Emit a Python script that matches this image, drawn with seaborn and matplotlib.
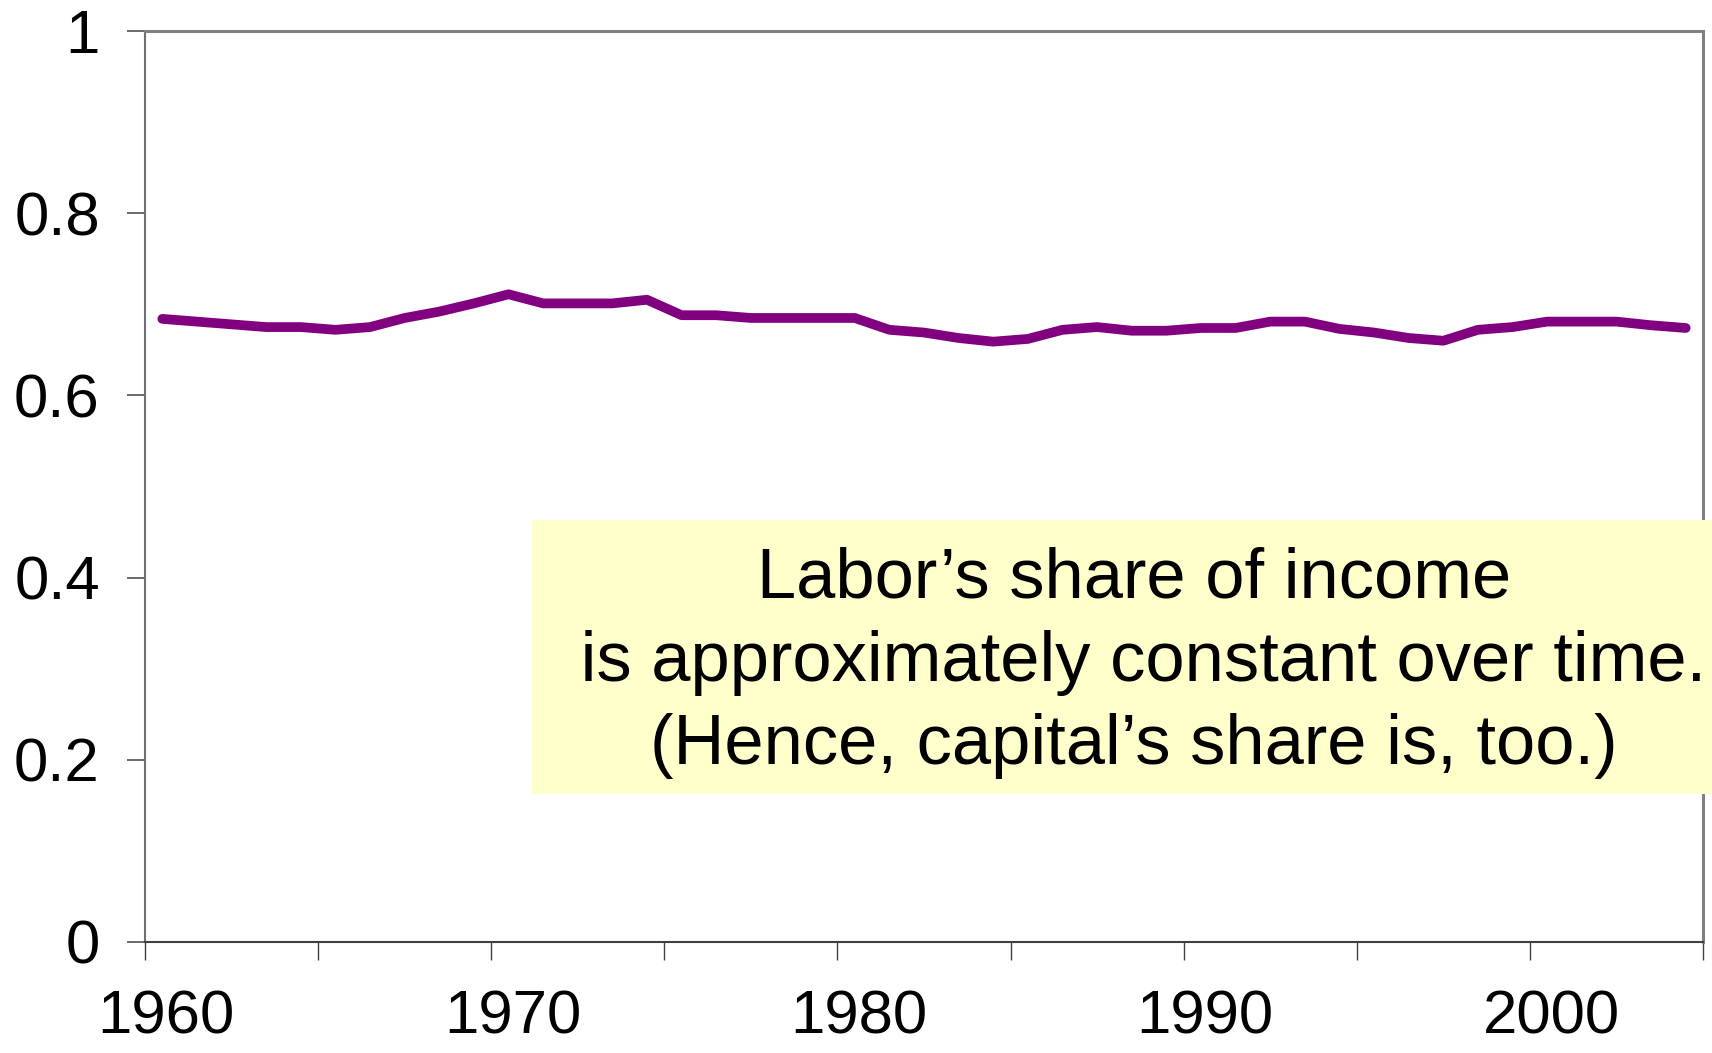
import matplotlib
matplotlib.use("Agg")
import matplotlib.pyplot as plt
import matplotlib.transforms as mtransforms
import seaborn as sns
import pandas as pd
from matplotlib.patches import Rectangle
from matplotlib.ticker import FixedLocator

years = list(range(1960, 2005))
labor_share = [0.684, 0.681, 0.678, 0.675, 0.675, 0.672, 0.675, 0.685, 0.692, 0.701,
               0.711, 0.701, 0.701, 0.701, 0.705, 0.688, 0.688, 0.685, 0.685, 0.685,
               0.685, 0.672, 0.669, 0.663, 0.659, 0.662, 0.672, 0.675, 0.671, 0.671,
               0.674, 0.674, 0.681, 0.681, 0.673, 0.669, 0.663, 0.660, 0.672, 0.675,
               0.681, 0.681, 0.681, 0.677, 0.674]
x_label_years = [1960, 1970, 1980, 1990, 2000]
y_ticks = [0, 0.2, 0.4, 0.6, 0.8, 1.0]
y_tick_labels = ["0", "0.2", "0.4", "0.6", "0.8", "1"]
note_lines = ["Labor\u2019s share of income",
              " is approximately constant over time.",
              "(Hence, capital\u2019s share is, too.)"]

sns.set_theme(style="white")
plt.rcParams["font.family"] = ["Liberation Sans", "DejaVu Sans"]

df = pd.DataFrame({"year": years, "share": labor_share})

fig = plt.figure(figsize=(17.12, 10.53), dpi=100)
ax = fig.add_axes([145 / 1712, 1 - 942 / 1053, (1703 - 145) / 1712, (942 - 31) / 1053])

sns.lineplot(data=df, x="year", y="share", ax=ax, color="#800080", linewidth=7.0,
             solid_capstyle="round", solid_joinstyle="round")

ax.set_xlim(years[0] - 0.5, years[-1] + 0.5)
ax.set_ylim(0, 1)
ax.set_xlabel("")
ax.set_ylabel("")

# x: labels at category centers (no tick marks), tick marks between category groups
ax.set_xticks(x_label_years)
ax.set_xticklabels([str(y) for y in x_label_years])
ax.xaxis.set_minor_locator(FixedLocator([years[0] - 0.5 + 5 * k for k in range(10)]))
ax.tick_params(axis="x", which="major", length=0, pad=34, labelsize=44.5, labelcolor="black")
ax.tick_params(axis="x", which="minor", length=13, width=1.0, color="#404040",
               direction="out", bottom=True)
shift = mtransforms.ScaledTranslation(4 / 100, 0, fig.dpi_scale_trans)
for lab in ax.get_xticklabels():
    lab.set_transform(lab.get_transform() + shift)

ax.set_yticks(y_ticks)
ax.set_yticklabels(y_tick_labels)
ax.tick_params(axis="y", which="major", length=13, width=1.2, color="#505050",
               direction="out", left=True, pad=19.5, labelsize=44.5, labelcolor="black")

for side in ["left", "bottom"]:
    ax.spines[side].set_color("#707070")
    ax.spines[side].set_linewidth(1.5)
for side in ["top", "right"]:
    ax.spines[side].set_visible(True)
    ax.spines[side].set_color("#808080")
    ax.spines[side].set_linewidth(2.2)
ax.spines["bottom"].set_color("#404040")

# annotation box
fig.patches.append(Rectangle((532 / 1712, 1 - 794 / 1053), (1712 - 532) / 1712, (794 - 520) / 1053,
                             transform=fig.transFigure, facecolor="#FFFFCC", edgecolor="none",
                             zorder=5))
fig.text(1134 / 1712, 1 - 663 / 1053, "\n".join(note_lines), ha="center", va="center",
         multialignment="center", fontsize=50.8, color="black", linespacing=1.34, zorder=6)

fig.savefig("out.png", dpi=100)
